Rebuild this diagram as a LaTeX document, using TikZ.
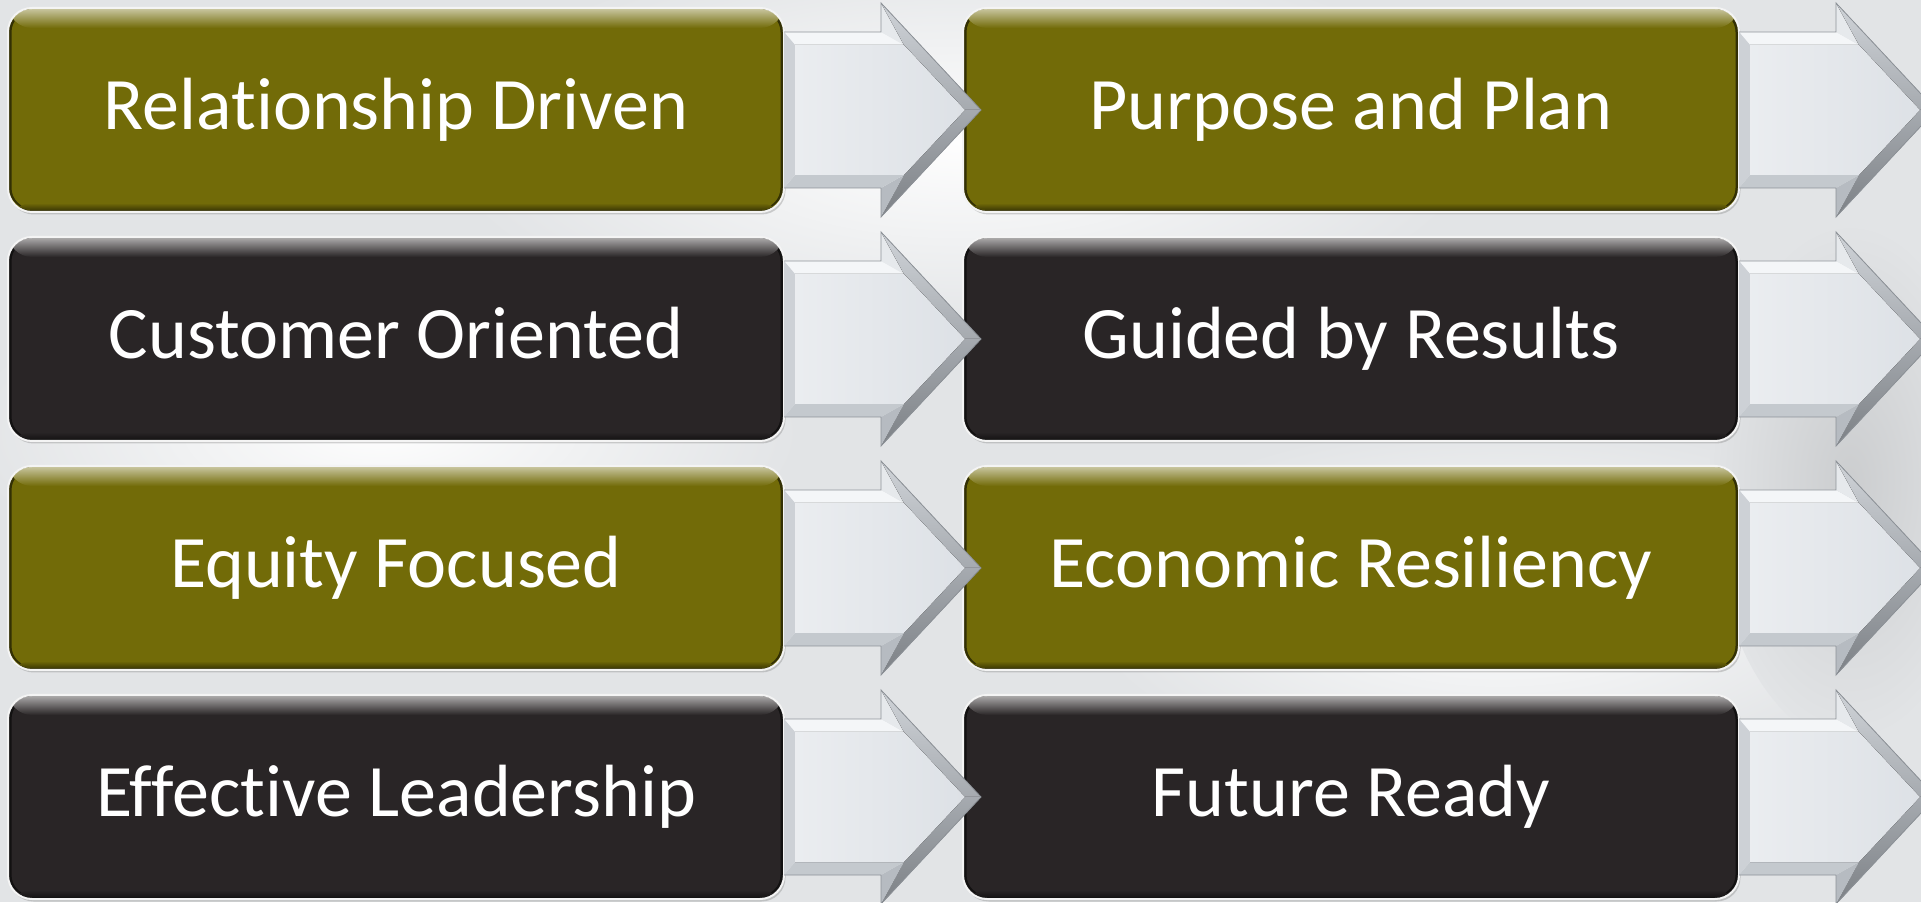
\documentclass[tikz,border=0pt]{standalone}
\usepackage{fontspec}
\setmainfont[Ligatures=NoCommon]{Carlito}
\usetikzlibrary{shadows}

\definecolor{olivebox}{HTML}{726B08}
\definecolor{darkbox}{HTML}{292526}
\definecolor{bgc}{HTML}{E2E4E6}
\definecolor{rimc}{HTML}{F4F4F4}
\definecolor{facecenter}{HTML}{DDE1E6}
\definecolor{facetop}{HTML}{F4F6F8}
\definecolor{faceheadtop}{HTML}{E6E9EC}
\definecolor{faceupper}{HTML}{C3C8CE}
\definecolor{facelower}{HTML}{9CA1A7}
\definecolor{faceheadbot}{HTML}{B6BBC1}
\definecolor{facebottom}{HTML}{C4C9CE}
\definecolor{faceleft}{HTML}{CDD1D6}
\definecolor{chevedge}{HTML}{8E9399}

\tikzset{
  tile/.style={
    rectangle, rounded corners=24pt,
    minimum width=776pt, minimum height=204pt,
    inner sep=0pt, outer sep=0pt,
    fill=#1, draw=rimc, line width=2pt,
    text=white, font=\fontsize{74}{80}\selectfont,
    text height=48pt, text depth=8pt,
    drop shadow={shadow xshift=1.5pt, shadow yshift=-2.5pt, opacity=0.35},
    path picture={
      \draw[line width=7pt, #1!45!black, rounded corners=24pt]
        (path picture bounding box.south west) rectangle (path picture bounding box.north east);
      \fill[top color=#1!40!white, bottom color=#1]
        ([yshift=-1pt]path picture bounding box.north west) rectangle ([yshift=-20pt]path picture bounding box.north east);
      \fill[top color=#1, bottom color=#1!55!black]
        ([yshift=9pt]path picture bounding box.south west) rectangle ([yshift=2pt]path picture bounding box.south east);
    }
  },
  pics/chevron/.style={code={
    % bevelled block arrow, origin at the left end of its shaft
    \fill[facetop]     (0,78) -- (97,78) -- (120,65) -- (11,65) -- cycle;
    \fill[faceheadtop] (97,78) -- (97,107) -- (120,65) -- cycle;
    \fill[top color=faceupper!80!white, bottom color=faceupper!85!black]
                       (97,107) -- (197,0) -- (181,0) -- (120,65) -- cycle;
    \fill[top color=facelower!90!white, bottom color=facelower!80!black]
                       (197,0) -- (97,-107) -- (120,-65) -- (181,0) -- cycle;
    \fill[faceheadbot] (97,-107) -- (97,-78) -- (120,-65) -- cycle;
    \fill[facebottom]  (97,-78) -- (0,-78) -- (11,-65) -- (120,-65) -- cycle;
    \fill[faceleft]    (0,-78) -- (0,78) -- (11,65) -- (11,-65) -- cycle;
    \fill[left color=facecenter!60!white, right color=facecenter]
                       (11,65) -- (120,65) -- (181,0) -- (120,-65) -- (11,-65) -- cycle;
    \draw[chevedge, line width=0.8pt, line join=miter]
      (0,78) -- (97,78) -- (97,107) -- (197,0) -- (97,-107) -- (97,-78) -- (0,-78);
  }}
}

\begin{document}
\begin{tikzpicture}[x=1pt, y=1pt]
  \useasboundingbox (0,0) rectangle (1921,902);
  \clip (0,0) rectangle (1921,902);

  % soft backdrop
  \fill[bgc] (0,0) rectangle (1921,902);
  \shade[inner color=white!96!bgc, outer color=bgc] (960,760) ellipse (520 and 200);
  \shade[inner color=white!94!bgc, outer color=bgc] (380,470) ellipse (420 and 160);
  \shade[inner color=white!94!bgc, outer color=bgc] (1500,300) ellipse (420 and 180);
  \shade[inner color=bgc!90!black, outer color=bgc] (1850,420) ellipse (140 and 260);

  % left column
  \node[tile=olivebox] (rd) at (396,792) {Relationship Driven};
  \node[tile=darkbox]  (co) at (396,563) {Customer Oriented};
  \node[tile=olivebox] (ef) at (396,334) {Equity Focused};
  \node[tile=darkbox]  (el) at (396,105) {Effective Leadership};

  % right column
  \node[tile=olivebox] (pp) at (1351,792) {Purpose and Plan};
  \node[tile=darkbox]  (gr) at (1351,563) {Guided by Results};
  \node[tile=olivebox] (er) at (1351,334) {Economic Resiliency};
  \node[tile=darkbox]  (fr) at (1351,105) {Future Ready};

  % arrows leaving each box
  \foreach \b in {rd,co,ef,el,pp,gr,er,fr}
    \pic at (\b.east) {chevron};
\end{tikzpicture}
\end{document}
